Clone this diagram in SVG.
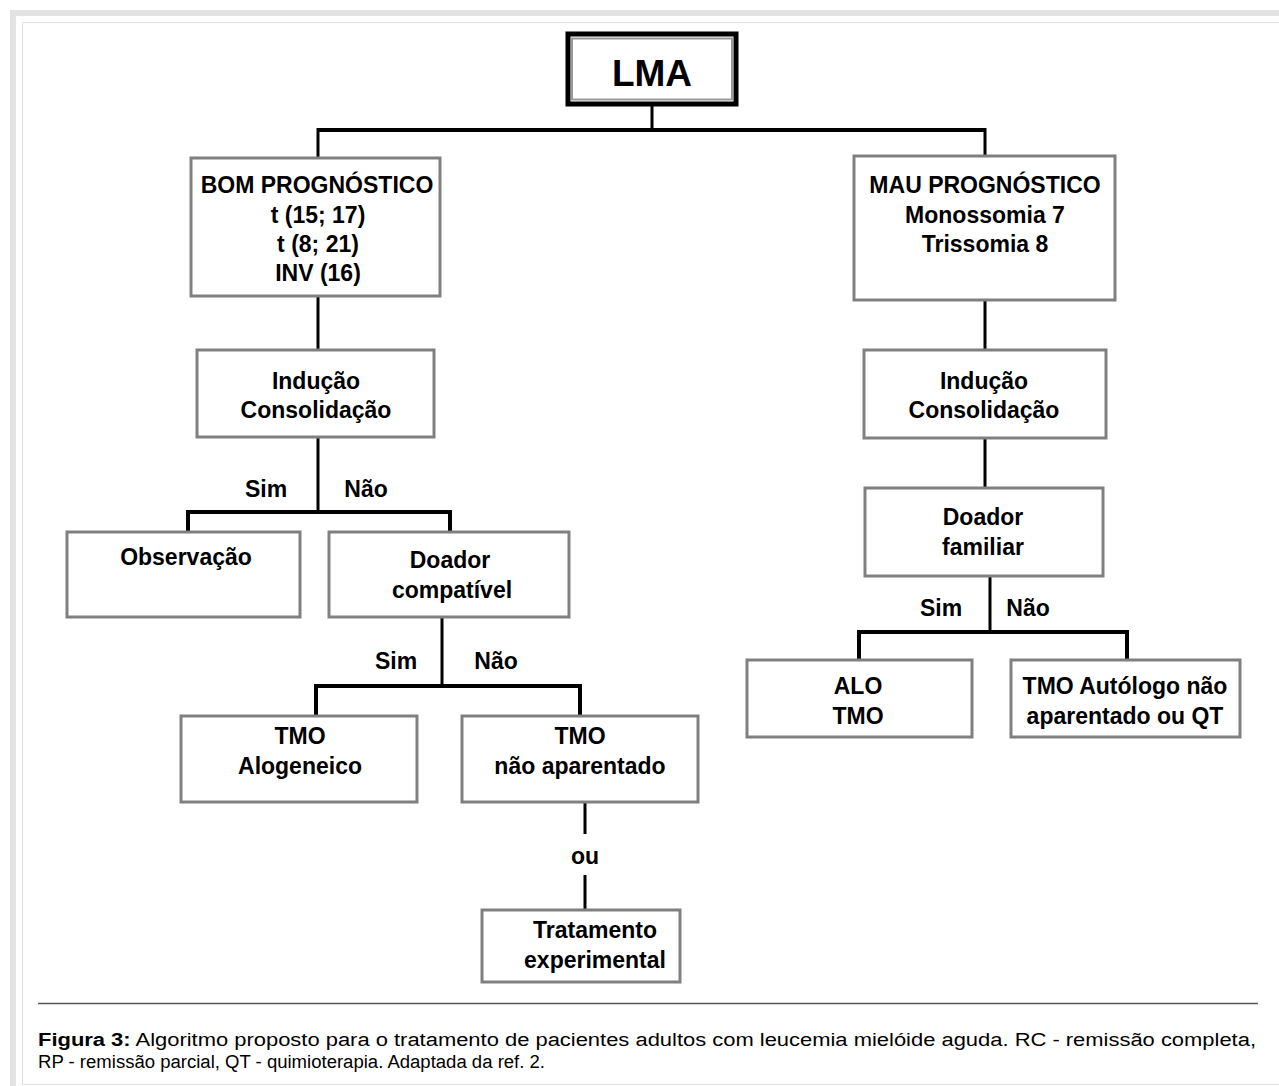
<svg xmlns="http://www.w3.org/2000/svg" width="1279" height="1086" viewBox="0 0 1279 1086">
<style>
.box{fill:#fff;stroke:#808080;stroke-width:3}
.t{font-family:"Liberation Sans",Arial,sans-serif;font-weight:bold;font-size:23px;fill:#000;text-anchor:middle}
.c{stroke:#000;fill:none;stroke-width:3}
.h{stroke:#000;fill:none;stroke-width:4}
.cap{font-family:"Liberation Sans",Arial,sans-serif;font-size:18px;fill:#000}
</style>
<rect width="1279" height="1086" fill="#fff"/>
<g id="frame">
<path d="M13 1086 V13 H1279" fill="none" stroke="#e3e3e3" stroke-width="6"/>
<path d="M22.5 1084.5 V22.5 H1279" fill="none" stroke="#e0e0e0" stroke-width="1"/>
<line x1="22" y1="1084.5" x2="1279" y2="1084.5" stroke="#e0e0e0" stroke-width="1"/>
</g>
<g id="connectors">
<line class="c" x1="652" y1="104" x2="652" y2="130"/>
<line class="h" x1="318" y1="130" x2="985" y2="130"/>
<line class="c" x1="318" y1="128" x2="318" y2="158"/>
<line class="c" x1="985" y1="128" x2="985" y2="156"/>
<line class="c" x1="318" y1="296" x2="318" y2="350"/>
<line class="c" x1="985" y1="300" x2="985" y2="350"/>
<line class="c" x1="318" y1="437" x2="318" y2="512"/>
<path class="h" d="M188 532 V512 H450 V532"/>
<line class="c" x1="442" y1="617" x2="442" y2="686"/>
<path class="h" d="M316 716 V686 H580 V716"/>
<line class="c" x1="585" y1="802" x2="585" y2="834"/>
<line class="c" x1="585" y1="875" x2="585" y2="910"/>
<line class="c" x1="985" y1="438" x2="985" y2="488"/>
<line class="c" x1="990" y1="576" x2="990" y2="632"/>
<path class="h" d="M859 660 V632 H1127 V660"/>
</g>
<g id="lma">
<rect x="568" y="34" width="168" height="70" fill="#fff" stroke="#000" stroke-width="5"/>
<rect x="572" y="38.5" width="160" height="61" fill="none" stroke="#999" stroke-width="2"/>
<text class="t" x="652" y="86" style="font-size:37px">LMA</text>
</g>
<g id="bom">
<rect class="box" x="191" y="158" width="249" height="138"/>
<text class="t" x="317" y="193">BOM PROGNÓSTICO</text>
<text class="t" x="318" y="223">t (15; 17)</text>
<text class="t" x="318" y="252">t (8; 21)</text>
<text class="t" x="318" y="281">INV (16)</text>
</g>
<g id="mau">
<rect class="box" x="854" y="156" width="261" height="144"/>
<text class="t" x="985" y="193">MAU PROGNÓSTICO</text>
<text class="t" x="985" y="223">Monossomia 7</text>
<text class="t" x="985" y="252">Trissomia 8</text>
</g>
<g id="inducao-l">
<rect class="box" x="197" y="350" width="237" height="87"/>
<text class="t" x="316" y="389">Indução</text>
<text class="t" x="316" y="418">Consolidação</text>
</g>
<g id="inducao-r">
<rect class="box" x="864" y="350" width="242" height="88"/>
<text class="t" x="984" y="389">Indução</text>
<text class="t" x="984" y="418">Consolidação</text>
</g>
<g id="labels">
<text class="t" x="266" y="497">Sim</text>
<text class="t" x="366" y="497">Não</text>
<text class="t" x="396" y="669">Sim</text>
<text class="t" x="496" y="669">Não</text>
<text class="t" x="941" y="616">Sim</text>
<text class="t" x="1028" y="616">Não</text>
<text class="t" x="585" y="864">ou</text>
</g>
<g id="observacao">
<rect class="box" x="67" y="532" width="233" height="85"/>
<text class="t" x="186" y="565">Observação</text>
</g>
<g id="doador-compativel">
<rect class="box" x="329" y="532" width="240" height="85"/>
<text class="t" x="450" y="568">Doador</text>
<text class="t" x="452" y="598">compatível</text>
</g>
<g id="tmo-alogeneico">
<rect class="box" x="181" y="716" width="236" height="86"/>
<text class="t" x="300" y="744">TMO</text>
<text class="t" x="300" y="774">Alogeneico</text>
</g>
<g id="tmo-nao-aparentado">
<rect class="box" x="462" y="716" width="236" height="86"/>
<text class="t" x="580" y="744">TMO</text>
<text class="t" x="580" y="774">não aparentado</text>
</g>
<g id="tratamento">
<rect class="box" x="482" y="910" width="198" height="72"/>
<text class="t" x="595" y="938">Tratamento</text>
<text class="t" x="595" y="968">experimental</text>
</g>
<g id="doador-familiar">
<rect class="box" x="865" y="488" width="238" height="88"/>
<text class="t" x="983" y="525">Doador</text>
<text class="t" x="983" y="555">familiar</text>
</g>
<g id="alo-tmo">
<rect class="box" x="747" y="660" width="225" height="77"/>
<text class="t" x="858" y="694">ALO</text>
<text class="t" x="858" y="724">TMO</text>
</g>
<g id="tmo-autologo">
<rect class="box" x="1011" y="660" width="229" height="77"/>
<text class="t" x="1125" y="694">TMO Autólogo não</text>
<text class="t" x="1125" y="724">aparentado ou QT</text>
</g>
<g id="caption">
<line x1="38" y1="1003.5" x2="1258" y2="1003.5" stroke="#555" stroke-width="1.5"/>
<text class="cap" x="38" y="1046" textLength="1218" lengthAdjust="spacingAndGlyphs"><tspan font-weight="bold">Figura 3:</tspan> Algoritmo proposto para o tratamento de pacientes adultos com leucemia mielóide aguda. RC - remissão completa,</text>
<text class="cap" x="38" y="1068" textLength="507" lengthAdjust="spacingAndGlyphs">RP - remissão parcial, QT - quimioterapia. Adaptada da ref. 2.</text>
</g>
</svg>
